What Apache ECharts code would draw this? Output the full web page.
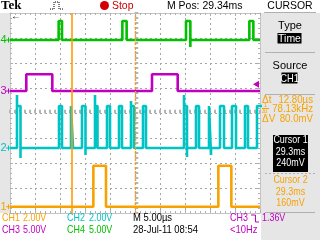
<!DOCTYPE html>
<html><head><meta charset="utf-8">
<script src="https://cdn.jsdelivr.net/npm/echarts@6/dist/echarts.min.js"></script>
<style>html,body{margin:0;padding:0;background:#fff}#c{width:320px;height:240px}</style>
</head><body><div id="c"></div>
<script>
// ---- axes: time in µs (5 µs/div), vertical in divisions ----
const xMin = 0, xMax = 50, xInterval = 5;
const yMin = -4, yMax = 4, yInterval = 1;

// ---- CH1 (2.00 V/div) ----
const ch1Rise = [16.67, 41.67];
const ch1Fall = [19.2, 44.27];
const ch1HighV = 3.28;
const ch1Over = [];
const ch1Under = [];
const ch1VoltsPerDiv = 2.0;
const ch1Offset = -3.75;

// ---- CH2 (2.00 V/div) ----
const ch2Rise = [1.4, 9.8, 12.2, 14.4, 17.0, 19.4, 21.8, 24.2, 26.6, 34.8, 37.2, 39.8, 42.0, 44.4, 47.0, 49.4];
const ch2Fall = [2.1, 10.4, 12.6, 15.1, 17.5, 20.0, 22.4, 24.8, 27.2, 35.4, 37.8, 40.2, 42.8, 45.2, 47.6, 51.0];
const ch2HighV = 3.36;
const ch2Over = [[1.4, 4.24], [17.0, 4.24], [24.2, 3.76], [34.8, 4.24]];
const ch2Under = [[2.1, -0.8], [15.1, -0.56], [35.4, -0.72], [40.2, -0.56]];
const ch2VoltsPerDiv = 2.0;
const ch2Offset = -1.4;

// ---- CH3 (5.00 V/div) ----
const ch3Rise = [3.26, 28.4];
const ch3Fall = [8.46, 33.54];
const ch3HighV = 3.34;
const ch3Over = [];
const ch3Under = [];
const ch3VoltsPerDiv = 5.0;
const ch3Offset = 0.88;
const ch3TriggerV = 1.36;

// ---- CH4 (5.00 V/div) ----
const ch4Rise = [9.73, 22.47, 35.2, 47.87];
const ch4Fall = [10.4, 23.33, 36.07, 48.67];
const ch4HighV = 3.8;
const ch4Over = [];
const ch4Under = [[36.07, -1.4]];
const ch4VoltsPerDiv = 5.0;
const ch4Offset = 2.92;

// ---- cursors (µs) ----
const cursor1T = 12.26;
const cursor2T = 25.06;

// ---- texts ----
const bottomRow1 = [['CH1', '2.00V'], ['CH2', '2.00V']];
const bottomRow2 = [['CH3', '5.00V'], ['CH4', '5.00V']];

const C1 = '#f7a200', C2 = '#00c4c4', C3 = '#c000c0', C4 = '#00c000';

function buildWave(rises, falls, high, over, under, offset, vdiv) {
  const om = new Map(over.map(p => [p[0], p[1]]));
  const um = new Map(under.map(p => [p[0], p[1]]));
  const pts = [[xMin, 0]];
  rises.forEach((r, i) => {
    const f = falls[i];
    pts.push([r, 0]);
    if (om.has(r)) pts.push([r, om.get(r)]);
    pts.push([r, high]);
    pts.push([f, high]);
    if (um.has(f)) pts.push([f, um.get(f)]);
    pts.push([f, 0]);
  });
  if (falls[falls.length - 1] < xMax) pts.push([xMax, 0]);
  return pts.map(p => [p[0], offset + p[1] / vdiv]);
}

// graticule minor-tick positions (1/5 division) on the centre lines
const centreX = (xMin + xMax) / 2;
const hTicks = [], vTicks = [];
for (let i = 0; i <= (xMax - xMin) / xInterval * 5; i++) hTicks.push([xMin + i * xInterval / 5, 0]);
for (let i = 0; i <= (yMax - yMin) / yInterval * 5; i++) vTicks.push([centreX, yMin + i * yInterval / 5]);

const gridLine = { show: true, lineStyle: { color: '#a6a6a6', type: [2, 3], width: 1 } };
const edgeLine = { show: true, onZero: false, lineStyle: { color: '#c4c4c4', width: 1 } };
const tickStyle = { color: '#b0b0b0', width: 1 };

function trace(name, data, color) {
  return { name, type: 'line', data, showSymbol: false, symbol: 'none', animation: false,
    lineStyle: { color, width: 2.6 }, itemStyle: { color }, clip: true, z: 3 };
}

const chart = echarts.init(document.getElementById('c'), null, { renderer: 'canvas' });

const option = {
  animation: false,
  backgroundColor: '#ffffff',
  grid: { left: 10, top: 13, width: 250, height: 200, containLabel: false, show: false },
  xAxis: [
    { type: 'value', min: xMin, max: xMax, interval: xInterval, position: 'bottom',
      axisLine: edgeLine, axisLabel: { show: false },
      axisTick: { show: true, inside: true, length: 3, lineStyle: tickStyle },
      minorTick: { show: true, splitNumber: 5, length: 2, lineStyle: tickStyle },
      splitLine: gridLine },
    { type: 'value', min: xMin, max: xMax, interval: xInterval, position: 'top',
      axisLine: edgeLine, axisLabel: { show: false },
      axisTick: { show: true, inside: true, length: 3, lineStyle: tickStyle },
      minorTick: { show: true, splitNumber: 5, length: 2, lineStyle: tickStyle },
      splitLine: { show: false } }
  ],
  yAxis: [
    { type: 'value', min: yMin, max: yMax, interval: yInterval, position: 'left',
      axisLine: edgeLine, axisLabel: { show: false },
      axisTick: { show: true, inside: true, length: 3, lineStyle: tickStyle },
      minorTick: { show: true, splitNumber: 5, length: 2, lineStyle: tickStyle },
      splitLine: gridLine },
    { type: 'value', min: yMin, max: yMax, interval: yInterval, position: 'right',
      axisLine: edgeLine, axisLabel: { show: false },
      axisTick: { show: true, inside: true, length: 3, lineStyle: tickStyle },
      minorTick: { show: true, splitNumber: 5, length: 2, lineStyle: tickStyle },
      splitLine: { show: false } }
  ],
  series: [
    { name: 'hticks', type: 'scatter', xAxisIndex: 0, yAxisIndex: 0, data: hTicks, symbol: 'rect', symbolSize: [2, 3.5], symbolOffset: [0, -1.5],
      itemStyle: { color: '#b4b4b4', opacity: 1 }, silent: true, z: 2, animation: false },
    { name: 'vticks', type: 'scatter', xAxisIndex: 0, yAxisIndex: 0, data: vTicks, symbol: 'rect', symbolSize: [3.5, 2], symbolOffset: [1.5, 0],
      itemStyle: { color: '#b4b4b4', opacity: 1 }, silent: true, z: 2, animation: false },
    trace('CH4', buildWave(ch4Rise, ch4Fall, ch4HighV, ch4Over, ch4Under, ch4Offset, ch4VoltsPerDiv), C4),
    trace('CH3', buildWave(ch3Rise, ch3Fall, ch3HighV, ch3Over, ch3Under, ch3Offset, ch3VoltsPerDiv), C3),
    trace('CH2', buildWave(ch2Rise, ch2Fall, ch2HighV, ch2Over, ch2Under, ch2Offset, ch2VoltsPerDiv), C2),
    trace('CH1', buildWave(ch1Rise, ch1Fall, ch1HighV, ch1Over, ch1Under, ch1Offset, ch1VoltsPerDiv), C1),
    { name: 'cursors', type: 'line', data: [], z: 5,
      markLine: { silent: true, symbol: 'none', animation: false, label: { show: false },
        data: [
          { xAxis: cursor1T, lineStyle: { color: '#ff9c00', type: 'solid', width: 1.6, opacity: 1 } },
          { xAxis: cursor2T, lineStyle: { color: '#ff9c00', type: [2, 2], width: 1.4, opacity: 1 } }
        ] } }
  ]
};
chart.setOption(option);

// ---------- annotation overlay (positions of channel markers via the axis scale) ----------
const F = 'Liberation Sans, Arial, sans-serif';
function txt(x, y, s, fill, size, opts) {
  opts = opts || {};
  return { type: 'text', x, y, scaleX: opts.sx || 1, z: 20,
    style: { text: s, fill, font: (opts.bold ? 'bold ' : '') + size + 'px ' + (opts.family || F),
      align: opts.align || 'left', textAlign: opts.align || 'left', verticalAlign: 'middle', textVerticalAlign: 'middle' } };
}
function rect(x, y, w, h, fill, z) {
  return { type: 'rect', shape: { x, y, width: w, height: h }, style: { fill }, z: z || 0, silent: true };
}
function line(x1, y1, x2, y2, stroke, dash) {
  return { type: 'line', shape: { x1, y1, x2, y2 }, style: { stroke, lineWidth: 1, lineDash: dash || null }, z: 15 };
}
const py = v => chart.convertToPixel({ yAxisIndex: 0 }, v);
const trigY = py(ch3Offset + ch3TriggerV / ch3VoltsPerDiv);

const markers = [['1', ch1Offset, C1], ['2', ch2Offset, C2], ['3', ch3Offset, C3], ['4', ch4Offset, C4]];

const g = [
  rect(0, 13, 10, 200, '#e6e6e6', -1),
  rect(261, 13, 59, 227, '#e6e6e6', -1),
  // header
  txt(1, 6, 'Tek', '#000', 13, { bold: true, family: 'Liberation Serif, serif' }),
  { type: 'polyline', shape: { points: [[50, 9], [54, 9], [54, 2], [59, 2], [59, 9], [63, 9]] },
    style: { stroke: '#000', lineWidth: 1, lineDash: [1, 1], fill: null }, z: 15 },
  { type: 'circle', shape: { cx: 104.5, cy: 5.5, r: 4.5 }, style: { fill: '#d40000' }, z: 15 },
  txt(112, 6, 'Stop', '#c80000', 11, { sx: 0.95 }),
  txt(167, 6, 'M Pos: 29.34ms', '#000', 11, { sx: 0.95 }),
  txt(290, 6, 'CURSOR', '#000', 11, { align: 'center', sx: 0.95 }),
  line(264, 12.5, 316, 12.5, '#b0b0b0'),
  // trigger position arrow
  txt(11, 16, '←', '#000', 10, { bold: true }),
  // trigger level marker
  { type: 'polygon', shape: { points: [[253, trigY], [259, trigY - 3.5], [259, trigY + 3.5]] },
    style: { fill: C3 }, z: 15 },
  // right panel
  txt(290, 26, 'Type', '#000', 11, { align: 'center' }),
  rect(277.5, 33, 24, 10.5, '#000', 10),
  txt(289.5, 38.5, 'Time', '#fff', 11, { align: 'center', sx: 0.95 }),
  line(265, 52.5, 315, 52.5, '#b0b0b0'),
  txt(290, 66, 'Source', '#000', 11, { align: 'center' }),
  rect(281.5, 72.5, 16, 11, '#000', 10),
  txt(289.5, 78.5, 'CH1', '#fff', 11, { align: 'center', sx: 0.85 }),
  line(265, 94.5, 315, 94.5, '#b0b0b0'),
  txt(262, 100, 'Δt', C1, 10),
  txt(313, 100, '12.80µs', C1, 10.5, { align: 'right', sx: 0.92 }),
  txt(264, 105.5, '1', C1, 5.5),
  line(262, 108.5, 269, 108.5, C1),
  txt(262, 111.5, 'Δt', C1, 5.5),
  txt(313, 109.5, '78.13kHz', C1, 10.5, { align: 'right', sx: 0.92 }),
  txt(262, 119.5, 'ΔV', C1, 10),
  txt(313, 119.5, '80.0mV', C1, 10.5, { align: 'right', sx: 0.92 }),
  rect(273, 135, 35, 37, '#000', 10),
  txt(290.5, 140.5, 'Cursor 1', '#fff', 10.5, { align: 'center', sx: 0.85 }),
  txt(290.5, 152, '29.3ms', '#fff', 10.5, { align: 'center', sx: 0.85 }),
  txt(290.5, 163.5, '240mV', '#fff', 10.5, { align: 'center', sx: 0.85 }),
  line(265, 173.5, 315, 173.5, '#b0b0b0', [2, 2]),
  txt(290.5, 180.5, 'Cursor 2', C1, 10.5, { align: 'center', sx: 0.85 }),
  txt(290.5, 192, '29.3ms', C1, 10.5, { align: 'center', sx: 0.85 }),
  txt(290.5, 203.5, '160mV', C1, 10.5, { align: 'center', sx: 0.85 }),
  line(265, 212.5, 315, 212.5, '#b0b0b0'),
  // bottom status
  txt(2, 218.5, bottomRow1[0][0], C1, 10.5, { sx: 0.85 }),
  txt(23, 218.5, bottomRow1[0][1], C1, 10.5, { sx: 0.85 }),
  txt(67, 218.5, bottomRow1[1][0], C2, 10.5, { sx: 0.85 }),
  txt(89, 218.5, bottomRow1[1][1], C2, 10.5, { sx: 0.85 }),
  txt(133, 218.5, 'M 5.00µs', '#000', 10.5, { sx: 0.9 }),
  txt(230, 218.5, 'CH3', C3, 10.5, { sx: 0.85 }),
  { type: 'polyline', shape: { points: [[251, 215], [255.5, 215], [255.5, 222], [259, 222]] },
    style: { stroke: C3, lineWidth: 1, fill: null }, z: 15 },
  txt(262, 218.5, ch3TriggerV.toFixed(2) + 'V', C3, 10.5, { sx: 0.85 }),
  txt(2, 230.5, bottomRow2[0][0], C3, 10.5, { sx: 0.85 }),
  txt(23, 230.5, bottomRow2[0][1], C3, 10.5, { sx: 0.85 }),
  txt(67, 230.5, bottomRow2[1][0], C4, 10.5, { sx: 0.85 }),
  txt(89, 230.5, bottomRow2[1][1], C4, 10.5, { sx: 0.85 }),
  txt(133, 230.5, '28-Jul-11 08:54', '#000', 10.5, { sx: 0.9 }),
  txt(230, 230.5, '<10Hz', C3, 10.5, { sx: 0.9 })
];
markers.forEach(m => {
  const y = py(m[1]);
  g.push(txt(0.5, y, m[0], m[2], 11));
  g.push(line(6, y, 11, y, m[2]));
  g.push(line(8.5, y - 2.5, 8.5, y + 2.5, m[2]));
});
chart.setOption({ graphic: { elements: g } });
</script>
</body></html>
